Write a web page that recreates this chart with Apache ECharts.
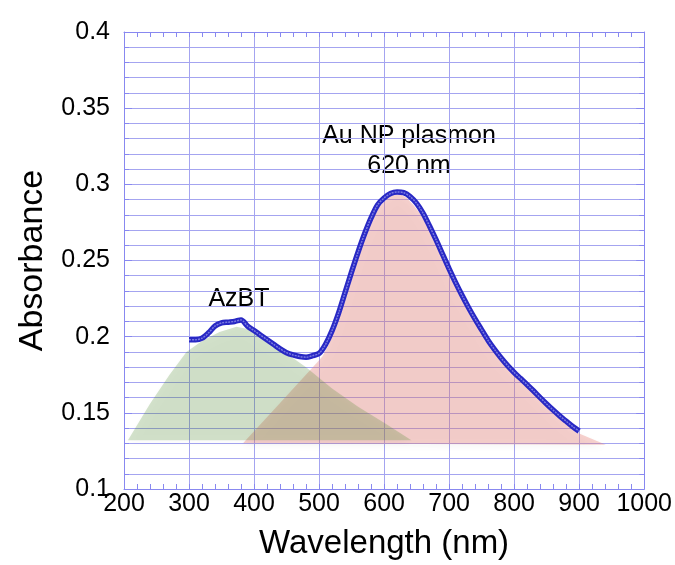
<!DOCTYPE html>
<html>
<head>
<meta charset="utf-8">
<script src="https://cdn.jsdelivr.net/npm/echarts@6/dist/echarts.min.js"></script>
<style>
html,body{margin:0;padding:0;background:#fff;}
#chart{width:675px;height:565px;}
</style>
</head>
<body>
<div id="chart"></div>
<script>
// Measured spectrum (wavelength nm, absorbance)
const wavelength = [300,310,320,330,340,350,360,370,380,390,400,410,420,430,440,450,460,470,480,490,500,510,520,530,540,550,560,570,580,590,600,610,620,630,640,650,660,670,680,690,700,710,720,730,740,750,760,770,780,790,800,810,820,830,840,850,860,870,880,890,900];
const absorbance = [0.198,0.198,0.199,0.2025,0.207,0.209,0.2095,0.210,0.211,0.207,0.204,0.201,0.198,0.195,0.192,0.1895,0.188,0.187,0.1865,0.1875,0.189,0.195,0.204,0.2155,0.229,0.2425,0.2555,0.2675,0.278,0.2865,0.291,0.294,0.295,0.2945,0.292,0.2875,0.281,0.2725,0.2635,0.254,0.2445,0.2355,0.227,0.219,0.2115,0.2045,0.1975,0.1915,0.186,0.181,0.1765,0.1725,0.1685,0.1643,0.160,0.1558,0.1518,0.148,0.1445,0.141,0.138];

// Shaded AzBT band outline
const azbtX = [206,240,270,296,321,347,373,390,420,450,480,520,560,600,642];
const azbtY = [0.132,0.156,0.175,0.190,0.1975,0.203,0.2065,0.205,0.197,0.189,0.180,0.166,0.154,0.1435,0.132];

// Shaded plasmon band outline
const plasmonX = [383,440,497,505,515,525,535,545,555,565,575,585,595,605,615,625,635,645,655,665,675,690,705,720,740,760,780,800,820,840,860,880,900,941];
const plasmonY = [0.130,0.1565,0.183,0.187,0.195,0.207,0.220,0.234,0.248,0.261,0.271,0.280,0.2865,0.2905,0.2935,0.2935,0.291,0.2865,0.281,0.274,0.266,0.252,0.238,0.2255,0.211,0.1965,0.1845,0.175,0.167,0.1585,0.150,0.1425,0.1365,0.129];

const xTicks = [200,1000,100];
const yTicks = [0.1,0.4,0.05];

const gridColor = '#a4a4f0';
const axisColor = '#8888f0';
const FONT = 'Liberation Sans, Arial, sans-serif';

function polyItem(xs, ys, fill){
  return function(params, api){
    const pts = xs.map((x,i)=>api.coord([x, ys[i]]));
    return {
      type:'polygon',
      shape:{points:pts},
      style:{fill:fill, shadowBlur:6, shadowColor:'rgba(0,0,0,0.10)', shadowOffsetY:3}
    };
  };
}

const chart = echarts.init(document.getElementById('chart'), null, {renderer:'canvas'});
const axisCommonX = {
  type:'value', min:xTicks[0], max:xTicks[1], interval:xTicks[2],
  axisLine:{show:true, lineStyle:{color:axisColor, width:1}},
  axisTick:{show:true, inside:true, length:5, lineStyle:{color:axisColor}},
  minorTick:{show:true, splitNumber:5, length:5, lineStyle:{color:axisColor}},
};
const axisCommonY = {
  type:'value', min:yTicks[0], max:yTicks[1], interval:yTicks[2],
  axisLine:{show:true, lineStyle:{color:axisColor, width:1}},
  axisTick:{show:true, inside:true, length:8, lineStyle:{color:axisColor}},
  minorTick:{show:true, splitNumber:5, length:5, lineStyle:{color:axisColor}},
};

const spectrum = wavelength.map((w,i)=>[w, absorbance[i]]);

chart.setOption({
  animation:false,
  backgroundColor:'#fff',
  grid:{left:124, right:30, top:32, bottom:72},
  xAxis:[
    Object.assign({}, axisCommonX, {
      position:'bottom',
      name:'Wavelength (nm)', nameLocation:'middle', nameGap:38,
      nameTextStyle:{fontSize:33, color:'#000', fontFamily:FONT},
      axisLabel:{fontSize:25, color:'#000', margin:3, fontFamily:FONT, formatter:function(v){return String(v);}},
      splitLine:{show:true, lineStyle:{color:gridColor, width:1}},
      minorSplitLine:{show:false}
    }),
    Object.assign({}, axisCommonX, {
      position:'top',
      axisLabel:{show:false},
      splitLine:{show:false}
    })
  ],
  yAxis:[
    Object.assign({}, axisCommonY, {
      position:'left',
      name:'Absorbance', nameLocation:'middle', nameGap:74,
      nameTextStyle:{fontSize:34, color:'#000', fontFamily:FONT},
      axisLabel:{fontSize:25, color:'#000', margin:14, fontFamily:FONT},
      splitLine:{show:true, lineStyle:{color:gridColor, width:1}},
      minorSplitLine:{show:true, lineStyle:{color:gridColor, width:1}}
    }),
    Object.assign({}, axisCommonY, {
      position:'right',
      axisLabel:{show:false},
      splitLine:{show:false}
    })
  ],
  series:[
    {
      type:'custom', name:'Plasmon band', xAxisIndex:0, yAxisIndex:0, z:1,
      renderItem: polyItem(plasmonX, plasmonY, 'rgba(232,128,118,0.36)'),
      data:[[plasmonX[0], plasmonY[0]]], clip:true, silent:true
    },
    {
      type:'custom', name:'AzBT band', xAxisIndex:0, yAxisIndex:0, z:1,
      renderItem: polyItem(azbtX, azbtY, 'rgba(70,135,35,0.23)'),
      data:[[azbtX[0], azbtY[0]]], clip:true, silent:true
    },
    {
      type:'line', name:'Spectrum', xAxisIndex:0, yAxisIndex:0, z:5,
      data: spectrum, smooth:0.3,
      lineStyle:{color:'#2828c4', width:5.5},
      symbol:'none'
    },
    {
      type:'line', name:'Spectrum core', xAxisIndex:0, yAxisIndex:0, z:6,
      data: spectrum, smooth:0.3,
      lineStyle:{color:'#7a7ae0', width:1.5, type:[2,1]},
      symbol:'none'
    }
  ],
  graphic:[
    {type:'text', x:239, y:299, style:{text:'AzBT', font:'25px '+FONT, fill:'#000', textAlign:'center', textVerticalAlign:'middle'}},
    {type:'text', x:409, y:136, style:{text:'Au NP plasmon', font:'25px '+FONT, fill:'#000', textAlign:'center', textVerticalAlign:'middle'}},
    {type:'text', x:409, y:166, style:{text:'620 nm', font:'25px '+FONT, fill:'#000', textAlign:'center', textVerticalAlign:'middle'}}
  ]
});
</script>
</body>
</html>
